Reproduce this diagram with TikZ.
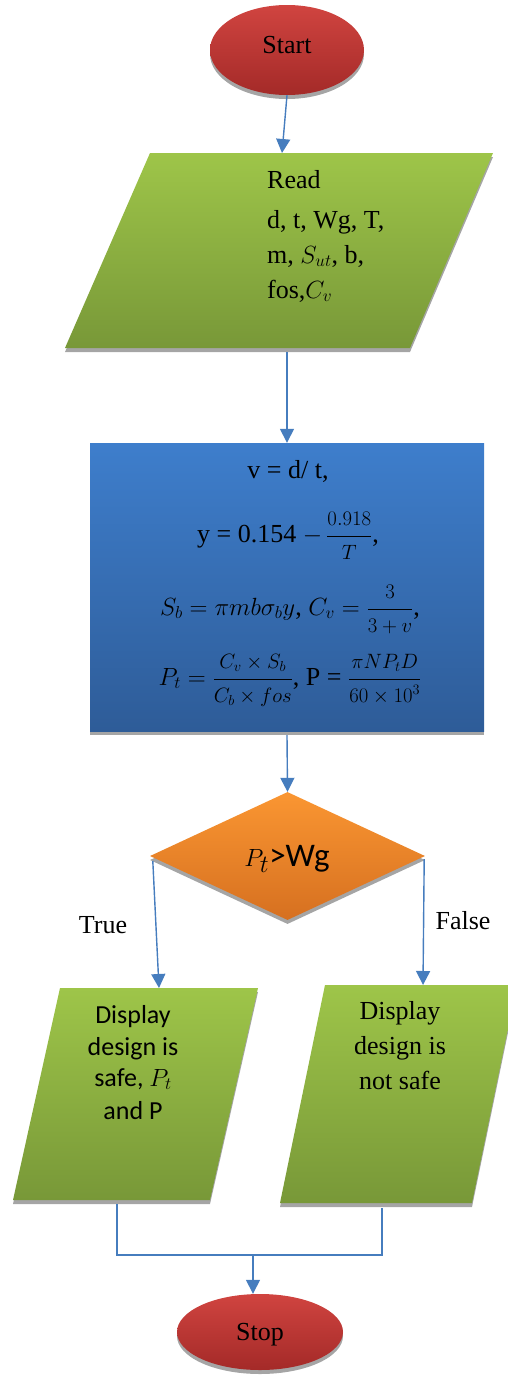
\documentclass[tikz,border=0pt]{standalone}
\usepackage{fontspec}
\setmainfont{Liberation Serif}
\newfontfamily\calib{Carlito}
\usetikzlibrary{shapes.geometric,shadows,arrows.meta,calc}
\definecolor{redT}{RGB}{208,68,64}
\definecolor{redB}{RGB}{164,42,40}
\definecolor{grnT}{RGB}{158,197,73}
\definecolor{grnB}{RGB}{120,152,56}
\definecolor{bluT}{RGB}{62,126,204}
\definecolor{bluB}{RGB}{46,92,152}
\definecolor{orgT}{RGB}{250,150,50}
\definecolor{orgB}{RGB}{214,112,32}
\definecolor{connc}{RGB}{70,125,190}
\definecolor{shad}{RGB}{165,165,165}
\newcommand\myfrac[2]{{\displaystyle\frac{\mbox{\fontsize{20}{22}\selectfont$#1$}}{\mbox{\fontsize{20}{22}\selectfont$#2$}}}}
\begin{document}
\begin{tikzpicture}[x=1pt,y=-1pt,
  sh/.style={drop shadow={fill=shad,opacity=1,shadow xshift=0pt,shadow yshift=-4pt}},
  term/.style={ellipse,draw=none,top color=redT,bottom color=redB,sh,inner sep=0pt},
  para/.style={draw=none,top color=grnT,bottom color=grnB,sh},
  txt/.style={font=\fontsize{26}{30}\selectfont,inner sep=0pt,anchor=base},
  ltxt/.style={font=\fontsize{26}{30}\selectfont,inner sep=0pt,anchor=base west},
  ctxt/.style={font=\calib\fontsize{26}{30}\selectfont,inner sep=0pt,anchor=base},
  conn/.style={draw=connc,line width=1.4pt,-{Triangle[width=14pt,length=14pt]}},
  ln/.style={draw=connc,line width=1.3pt}]
\useasboundingbox (0,0) rectangle (508,1376);
\clip (0,0) rectangle (508,1376);

% shapes
\node[term,minimum width=154,minimum height=90] (start) at (287,50) {};
\path[para] (150,153) -- (493,153) -- (410,348) -- (65,348) -- cycle;
\coordinate (readN) at (282,153);
\coordinate (readS) at (287,348);
\node[rectangle,draw=none,top color=bluT,bottom color=bluB,sh,inner sep=0pt,minimum width=394,minimum height=288] (proc) at (287,587) {};
\node[diamond,draw=none,top color=orgT,bottom color=orgB,sh,inner sep=0pt,minimum width=275,minimum height=128] (dec) at (287.5,856) {};
\path[para] (60,988) -- (258,988) -- (210,1200) -- (13,1200) -- cycle;
\coordinate (d1N) at (159,988);
\coordinate (d1S) at (117,1200);
\path[para] (325,985) -- (517,985) -- (472,1203) -- (280,1203) -- cycle;
\coordinate (d2N) at (423,985);
\coordinate (d2S) at (382,1203);
\node[term,minimum width=166,minimum height=76] (stop) at (260,1332) {};

% texts
\node[txt] (starttxt) at (287,53) {Start};
\node[ltxt] (r1) at (267,188) {Read};
\node[ltxt] (r2) at (267,228) {d, t, Wg, T,};
\node[ltxt] (r3) at (267,263) {m, $S_{ut}$, b,};
\node[ltxt] (r4) at (267,298) {fos,$C_v$};
\node[txt] (p1) at (288,478) {v = d/ t,};
\node[txt] (p2) at (288,542) {y = 0.154 $-\,\myfrac{0.918}{T}$,};
\node[txt] (p3) at (290,615) {$S_b = \pi m b\sigma_b y$, $C_v = \myfrac{3}{3+v}$,};
\node[txt] (p4) at (290,685) {$P_t = \myfrac{C_v\times S_b}{C_b\times fos}$, P = $\myfrac{\pi N P_t D}{60\times 10^3}$};
\node[ctxt,font=\calib\fontsize{33}{36}\selectfont] (dectxt) at (287,866) {$P_t$>Wg};
\node[ctxt] (dl1) at (133,1023) {Display};
\node[ctxt] (dl2) at (133,1055) {design is};
\node[ctxt] (dl3) at (133,1086) {safe, $P_t$};
\node[ctxt] (dl4) at (133,1119) {and P};
\node[txt] (dr1) at (400,1019) {Display};
\node[txt] (dr2) at (400,1054) {design is};
\node[txt] (dr3) at (400,1089) {not safe};
\node[txt] (ltrue) at (103,933) {True};
\node[txt] (lfalse) at (463,929) {False};
\node[txt] (stoptxt) at (260,1340) {Stop};

% connectors
\draw[conn] (start.south) -- (readN);
\draw[conn] ($(readS)+(0,4)$) -- (proc.north);
\draw[conn] ($(proc.south)+(0,4)$) -- (dec.north);
\draw[conn] ($(dec.west)+(3,5)$) -- (d1N);
\draw[conn] ($(dec.east)+(-1,3)$) -- (d2N);
\coordinate (jl) at (117,1255);
\coordinate (jr) at (382,1255);
\coordinate (jm) at (253,1255);
\draw[ln] ($(d1S)+(0,4)$) -- (jl) -- (jr) -- ($(d2S)+(0,5)$);
\draw[conn] (jm) -- (jm |- stop.north);
\end{tikzpicture}
\end{document}
